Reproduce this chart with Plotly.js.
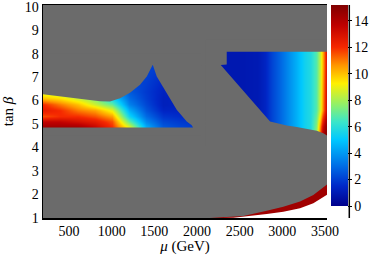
<!DOCTYPE html>
<html>
<head>
<meta charset="utf-8">
<script src="https://cdn.plot.ly/plotly-3.0.1.min.js"></script>
<style>
  body { margin: 0; background: white; }
  #scan { width: 374px; height: 255px; }
</style>
</head>
<body>
<div id="scan"></div>
<script>
// left island (low mu): grid
var leftX = [200, 400, 600, 800, 1000, 1200, 1400, 1600, 1800, 1950];
var leftY = [4.85, 5.1, 5.35, 5.6, 5.85, 6.1, 6.4, 6.8, 7.2, 7.6];
var leftZ = [
  [14.5, 14.5, 14.5, 13.5, 12, 9, 4.5, 2.6, 2.2, 2.0],
  [13.5, 13.5, 13, 12.5, 11.5, 7, 3.6, 2.2, 1.9, 1.8],
  [11.5, 12, 12, 11.5, 10.5, 5.5, 3, 1.8, 1.6, 1.6],
  [12.5, 12, 11, 10.5, 9, 4.5, 2.5, 1.4, 1.4, 1.4],
  [12, 11, 10, 8.5, 7, 3.5, 2.2, 1.2, 1.3, 1.3],
  [10, 9.5, 8.5, 7.5, 5.5, 3, 2, 1.2, 1.3, 1.3],
  [8.5, 8, 7.5, 6.5, 4.5, 2.6, 1.9, 1.3, 1.4, 1.4],
  [8, 7.5, 7, 6, 4, 2.3, 2, 1.5, 1.5, 1.5],
  [8, 7.5, 7, 6, 4, 2.2, 2.1, 1.8, 1.7, 1.7],
  [8, 7.5, 7, 6, 4, 2.2, 2.1, 2, 1.9, 1.9]
];

// right island (high mu)
var rightX = [2270, 2500, 2700, 2800, 2880, 2960, 3060, 3180, 3260, 3330, 3400, 3440, 3470, 3500, 3525];
var rightY = [4.5, 4.9, 5.6, 7.5, 8.1];
var rightZ = [
  [0.9, 0.9, 1.0, 1.4, 2.2, 2.8, 3.6, 4.6, 5.4, 5.8, 8, 12, 14, 15, 15],
  [0.9, 0.9, 1.0, 1.4, 2.2, 2.8, 3.6, 4.6, 5.4, 5.8, 7.5, 11, 13, 14.5, 15],
  [0.9, 0.9, 1.0, 1.4, 2.2, 2.8, 3.6, 4.6, 5.4, 5.8, 6.8, 8.8, 10.5, 12.5, 14],
  [0.9, 0.9, 1.0, 1.4, 2.2, 2.8, 3.6, 4.6, 5.4, 5.8, 6.8, 8.5, 10, 12, 13.5],
  [0.9, 0.9, 1.0, 1.4, 2.2, 2.8, 3.6, 4.6, 5.4, 5.8, 6.8, 8.5, 10, 12, 13.5]
];

// boundaries of the allowed regions
var leftTopX = [190, 395, 629, 863, 980, 1098, 1215, 1332, 1411, 1481];
var leftTopY = [6.27, 6.18, 6.08, 5.97, 5.96, 6.10, 6.33, 6.67, 7.03, 7.53];
var leftEdgeX = [1481, 1528, 1645, 1762, 1879, 1938, 1953];
var leftEdgeY = [7.53, 7.03, 6.32, 5.61, 5.11, 4.95, 4.85];
var leftBottom = 4.85;

var rightEdgeX = [2348, 2348, 2278, 2856, 2934, 3051, 3168, 3286, 3403, 3480, 3530];
var rightEdgeY = [8.08, 7.54, 7.51, 5.11, 5.04, 4.94, 4.87, 4.81, 4.72, 4.61, 4.50];
var rightTop = 8.08;

// red band and white (excluded) corner at the bottom right
var redTopX = [2150, 2270, 2543, 2817, 3011, 3207, 3363, 3530];
var redTopY = [1.0, 1.03, 1.085, 1.31, 1.48, 1.70, 1.98, 2.45];
var whiteTopX = [2300, 2425, 2817, 3011, 3207, 3363, 3530];
var whiteTopY = [1.0, 1.01, 1.17, 1.27, 1.41, 1.63, 2.01];

var grey = '#6b6b6b';
var serif = 'Liberation Serif, Times New Roman, serif';

var jet = [
  [0, 'rgb(0,0,140)'], [0.1, 'rgb(0,40,200)'], [0.2, 'rgb(0,110,230)'],
  [0.33, 'rgb(0,200,255)'], [0.42, 'rgb(60,230,200)'], [0.5, 'rgb(140,240,110)'],
  [0.61, 'rgb(255,240,0)'], [0.7, 'rgb(255,150,0)'], [0.79, 'rgb(245,40,0)'],
  [0.9, 'rgb(190,0,0)'], [1, 'rgb(128,0,0)']
];

// grey mask = bounding box with the island carved out
var lmX = [190, leftEdgeX[leftEdgeX.length - 1]]
  .concat(leftEdgeX.slice().reverse())
  .concat(leftTopX.slice().reverse())
  .concat([190, 2050, 2050, 190]);
var lmY = [leftBottom, leftBottom]
  .concat(leftEdgeY.slice().reverse())
  .concat(leftTopY.slice().reverse())
  .concat([8.0, 8.0, 4.5, 4.5]);

var rmX = [3530].concat(rightEdgeX).concat([3530, 2100, 2100, 3530]);
var rmY = [rightTop].concat(rightEdgeY).concat([4.1, 4.1, 8.6, 8.6]);

function poly(xs, ys, color) {
  return {
    x: xs, y: ys, type: 'scatter', mode: 'lines', fill: 'toself',
    fillcolor: color, line: { width: 0, color: color },
    hoverinfo: 'skip', showlegend: false
  };
}

var data = [
  { x: leftX, y: leftY, z: leftZ, type: 'heatmap', zsmooth: 'best', coloraxis: 'coloraxis' },
  { x: rightX, y: rightY, z: rightZ, type: 'heatmap', zsmooth: 'best', coloraxis: 'coloraxis' },
  poly(lmX, lmY, grey),
  poly(rmX, rmY, grey),
  poly(redTopX.concat([3530, 2150]), redTopY.concat([0.9, 0.9]), '#a00000'),
  poly(whiteTopX.concat([3530, 2300]), whiteTopY.concat([0.9, 0.9]), '#ffffff')
];

var layout = {
  width: 374,
  height: 255,
  margin: { l: 43, r: 47, t: 5, b: 37 },
  paper_bgcolor: 'white',
  plot_bgcolor: grey,
  font: { family: serif, size: 14, color: 'black' },
  showlegend: false,
  xaxis: {
    range: [195, 3523],
    tick0: 500, dtick: 500,
    showgrid: false, zeroline: false,
    showline: true, linecolor: 'black', linewidth: 1.5, mirror: true,
    ticks: '',
    tickfont: { family: serif, size: 14, color: 'black' },
    title: { text: '<i>μ</i> (GeV)', font: { family: serif, size: 15, color: 'black' }, standoff: 11 }
  },
  yaxis: {
    range: [1, 10.07],
    tick0: 1, dtick: 1,
    showgrid: false, zeroline: false,
    showline: true, linecolor: 'black', linewidth: 1.5,
    ticks: '',
    ticklabeloverflow: 'allow',
    tickfont: { family: serif, size: 14, color: 'black' },
    title: { text: 'tan <i>β</i>', font: { family: serif, size: 15, color: 'black' }, standoff: 8 }
  },
  coloraxis: {
    colorscale: jet,
    cmin: 0, cmax: 15.2,
    colorbar: {
      x: 1.014, xanchor: 'left', xpad: 0,
      y: 1, yanchor: 'top', ypad: 0,
      lenmode: 'pixels', len: 201,
      thickness: 17,
      outlinewidth: 0,
      ticks: 'outside', ticklen: 4, tickcolor: 'black',
      tick0: 0, dtick: 2,
      tickfont: { family: serif, size: 14, color: 'black' }
    }
  },
  shapes: [
    { type: 'line', xref: 'paper', yref: 'paper', x0: 1.0785, x1: 1.0785, y0: 0, y1: 1,
      line: { color: 'black', width: 1.5 } }
  ]
};

Plotly.newPlot('scan', data, layout, { displayModeBar: false, staticPlot: true });
</script>
</body>
</html>
